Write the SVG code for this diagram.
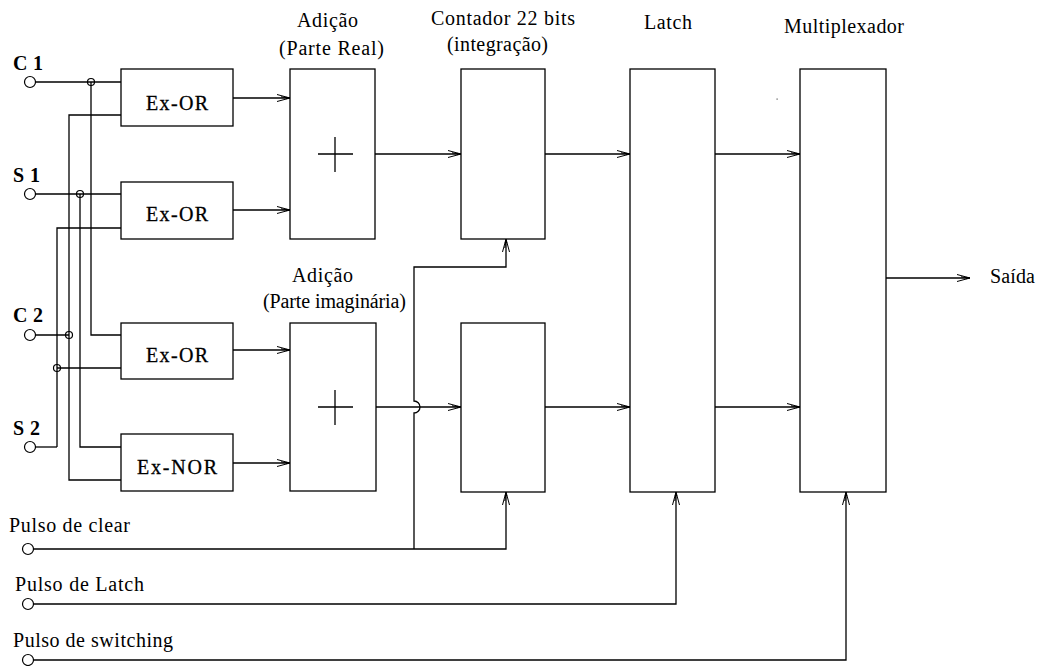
<svg xmlns="http://www.w3.org/2000/svg" width="1043" height="666" viewBox="0 0 1043 666">
<style>
.box{fill:#fff;stroke:#000;stroke-width:1.3}
.w{fill:none;stroke:#000;stroke-width:1.3}
.t{font-family:"Liberation Serif","Times New Roman","DejaVu Serif",serif;font-size:20px;fill:#000}
.g{font-family:"Liberation Serif","Times New Roman","DejaVu Serif",serif;font-size:20px;fill:#000;stroke:#000;stroke-width:0.3}
.b{font-weight:bold}
.term{fill:#fff;stroke:#000;stroke-width:1.2}
.jn{fill:none;stroke:#000;stroke-width:1.2}
</style>
<defs>
<marker id="ar" markerUnits="userSpaceOnUse" markerWidth="16" markerHeight="10" refX="0" refY="0" viewBox="-14 -5 15 10" orient="auto" overflow="visible">
<path d="M-13,-3.5 L0,0 L-13,3.5 M-9,-1.2 L-1,0" fill="none" stroke="#000" stroke-width="1"/>
<path d="M-4,-1.3 L0,0 L-4,1.3 Z" fill="#000"/>
</marker>
</defs>
<rect width="1043" height="666" fill="#fff"/>
<g id="connectors">
<path class="w" d="M35,82 H121"/>
<path class="w" d="M35,194 H121"/>
<path class="w" d="M35,335 H69"/>
<path class="w" d="M35,447 H57"/>
<path class="w" d="M91,82 V335 H121"/>
<path class="w" d="M80,194 V447 H121"/>
<path class="w" d="M121,115 H69 V480 H121"/>
<path class="w" d="M121,228 H57 V447"/>
<path class="w" d="M57,368 H121"/>
<circle class="jn" cx="91" cy="82" r="3.5"/>
<circle class="jn" cx="80" cy="194" r="3.5"/>
<circle class="jn" cx="69" cy="335" r="3.5"/>
<circle class="jn" cx="57" cy="368" r="3.5"/>
<path class="w" d="M233,98 H290" marker-end="url(#ar)"/>
<path class="w" d="M233,210 H290" marker-end="url(#ar)"/>
<path class="w" d="M233,350 H290" marker-end="url(#ar)"/>
<path class="w" d="M233,463 H290" marker-end="url(#ar)"/>
<path class="w" d="M375,154 H461" marker-end="url(#ar)"/>
<path class="w" d="M376,407 H461" marker-end="url(#ar)"/>
<path class="w" d="M545,154 H630" marker-end="url(#ar)"/>
<path class="w" d="M545,407 H630" marker-end="url(#ar)"/>
<path class="w" d="M715,154 H800" marker-end="url(#ar)"/>
<path class="w" d="M715,407 H800" marker-end="url(#ar)"/>
<path class="w" d="M886,278 H970" marker-end="url(#ar)"/>
<path class="w" d="M33,549 H506 V492" marker-end="url(#ar)"/>
<path class="w" d="M414,549 V413 A6,6 0 0 0 414,401 V267 H506 V239" marker-end="url(#ar)"/>
<path class="w" d="M33,604 H676 V492" marker-end="url(#ar)"/>
<path class="w" d="M33,660 H846 V492" marker-end="url(#ar)"/>
<rect x="776.5" y="98.5" width="1.2" height="1.2" fill="#555"/>
</g>
<g id="in-c1"><circle class="term" cx="30" cy="82" r="5.5"/><text class="t b" x="13" y="70" textLength="30">C 1</text></g>
<g id="in-s1"><circle class="term" cx="30" cy="194" r="5.5"/><text class="t b" x="13" y="182" textLength="27">S 1</text></g>
<g id="in-c2"><circle class="term" cx="30" cy="335" r="5.5"/><text class="t b" x="13" y="322" textLength="30">C 2</text></g>
<g id="in-s2"><circle class="term" cx="30" cy="447" r="5.5"/><text class="t b" x="13" y="435" textLength="27">S 2</text></g>
<g id="xor1"><rect class="box" x="121" y="69" width="112" height="57"/><text class="g" x="146" y="110" textLength="62">Ex-OR</text></g>
<g id="xor2"><rect class="box" x="121" y="182" width="112" height="57"/><text class="g" x="146" y="221" textLength="62">Ex-OR</text></g>
<g id="xor3"><rect class="box" x="121" y="323" width="112" height="56"/><text class="g" x="146" y="362" textLength="62">Ex-OR</text></g>
<g id="xnor4"><rect class="box" x="121" y="434" width="112" height="57"/><text class="g" x="137" y="474" textLength="80">Ex-NOR</text></g>
<g id="add-real"><text class="t" x="297" y="27" textLength="61">Adição</text><text class="t" x="279" y="55" textLength="105">(Parte Real)</text><rect class="box" x="290" y="69" width="85" height="170"/><path class="w" d="M318,154 H353 M335,137 V172"/></g>
<g id="add-imag"><text class="t" x="292" y="282" textLength="61">Adição</text><text class="t" x="263" y="308" textLength="143">(Parte imaginária)</text><rect class="box" x="290" y="323" width="86" height="168"/><path class="w" d="M318,407 H353 M335,390 V425"/></g>
<g id="counter1"><text class="t" x="431" y="25" textLength="144">Contador 22 bits</text><text class="t" x="447" y="51" textLength="101">(integração)</text><rect class="box" x="461" y="69" width="84" height="170"/></g>
<g id="counter2"><rect class="box" x="461" y="323" width="84" height="169"/></g>
<g id="latch"><text class="t" x="644" y="29" textLength="48">Latch</text><rect class="box" x="630" y="69" width="85" height="423"/></g>
<g id="mux"><text class="t" x="784" y="33" textLength="120">Multiplexador</text><rect class="box" x="800" y="69" width="86" height="423"/></g>
<g id="out"><text class="t" x="990" y="283" textLength="45">Saída</text></g>
<g id="p-clear"><circle class="term" cx="28" cy="549" r="5.5"/><text class="t" x="9" y="532" textLength="121">Pulso de clear</text></g>
<g id="p-latch"><circle class="term" cx="28" cy="604" r="5.5"/><text class="t" x="15" y="591" textLength="129">Pulso de Latch</text></g>
<g id="p-switch"><circle class="term" cx="28" cy="660" r="5.5"/><text class="t" x="13" y="647" textLength="160">Pulso de switching</text></g>
</svg>
